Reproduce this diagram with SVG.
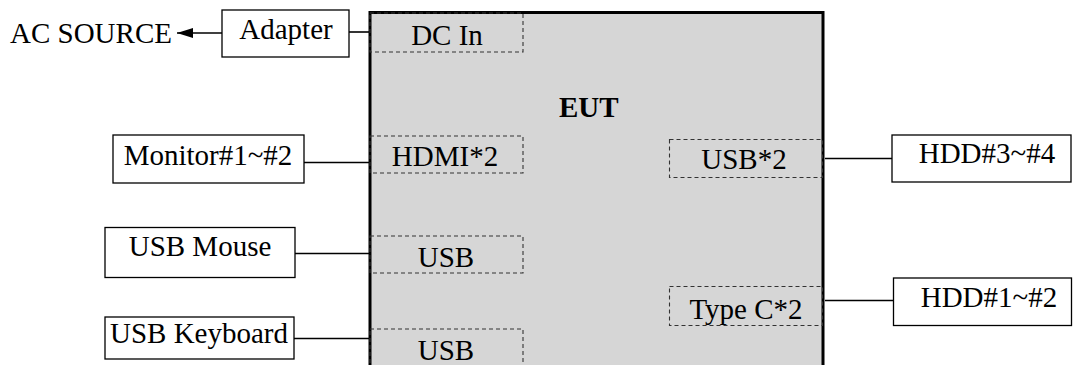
<svg xmlns="http://www.w3.org/2000/svg" width="1074" height="365" viewBox="0 0 1074 365">
<style>
text{font-family:"Liberation Serif","Times New Roman",serif;font-size:29px;fill:#000}
.c{text-anchor:middle}
.box{fill:#fff;stroke:#000;stroke-width:1.3}
.port{fill:none;stroke:#333;stroke-width:1.1;stroke-dasharray:4 3}
.ln{stroke:#000;stroke-width:1.6;fill:none}
</style>
<defs>
<marker id="ah" markerWidth="16" markerHeight="10" refX="16" refY="5" orient="auto" markerUnits="userSpaceOnUse">
<path d="M16,5 L0,0 L0,10 Z" fill="#000"/>
</marker>
</defs>
<g id="eut">
<rect x="370" y="12.5" width="453" height="380" fill="#d6d6d6" stroke="#000" stroke-width="3"/>
<text x="559" y="117" font-weight="bold" font-size="28">EUT</text>
</g>
<g id="port-dcin"><rect class="port" x="370" y="13" width="153" height="39"/><text class="c" x="447" y="45">DC In</text></g>
<g id="port-hdmi"><rect class="port" x="370" y="136" width="153" height="37"/><text class="c" x="445" y="166">HDMI*2</text></g>
<g id="port-usb1"><rect class="port" x="370" y="236" width="153" height="37"/><text class="c" x="446" y="267">USB</text></g>
<g id="port-usb2"><rect class="port" x="370" y="329" width="153" height="60"/><text class="c" x="446" y="359.5">USB</text></g>
<g id="port-usb3"><rect class="port" x="669.5" y="139.5" width="153" height="38"/><text class="c" x="744" y="169">USB*2</text></g>
<g id="port-typec"><rect class="port" x="669.5" y="286.5" width="153" height="39"/><text class="c" x="746" y="318.5">Type C*2</text></g>
<g id="ac-source"><text x="10" y="43">AC SOURCE</text></g>
<g id="adapter"><rect class="box" x="222" y="10" width="127" height="47"/><text class="c" x="286" y="39">Adapter</text></g>
<g id="monitor"><rect class="box" x="113" y="135" width="191" height="48"/><text class="c" x="208" y="165">Monitor#1~#2</text></g>
<g id="mouse"><rect class="box" x="105" y="227.5" width="190" height="50"/><text class="c" x="200" y="256">USB Mouse</text></g>
<g id="keyboard"><rect class="box" x="105" y="317" width="189" height="42"/><text class="c" x="199" y="343">USB Keyboard</text></g>
<g id="hdd34"><rect class="box" x="892" y="135" width="179" height="47"/><text class="c" x="987" y="163">HDD#3~#4</text></g>
<g id="hdd12"><rect class="box" x="893.5" y="278" width="178" height="47.5"/><text class="c" x="989" y="306.5">HDD#1~#2</text></g>
<g id="connectors">
<line class="ln" x1="222" y1="33" x2="177" y2="33" marker-end="url(#ah)"/>
<line class="ln" x1="349" y1="32" x2="369" y2="32"/>
<line class="ln" x1="304" y1="162.5" x2="369" y2="162.5"/>
<line class="ln" x1="295" y1="253.5" x2="369" y2="253.5"/>
<line class="ln" x1="294" y1="338.5" x2="369" y2="338.5"/>
<line class="ln" x1="825" y1="158.5" x2="892" y2="158.5"/>
<line class="ln" x1="825" y1="300.5" x2="893.5" y2="300.5"/>
</g>
</svg>
